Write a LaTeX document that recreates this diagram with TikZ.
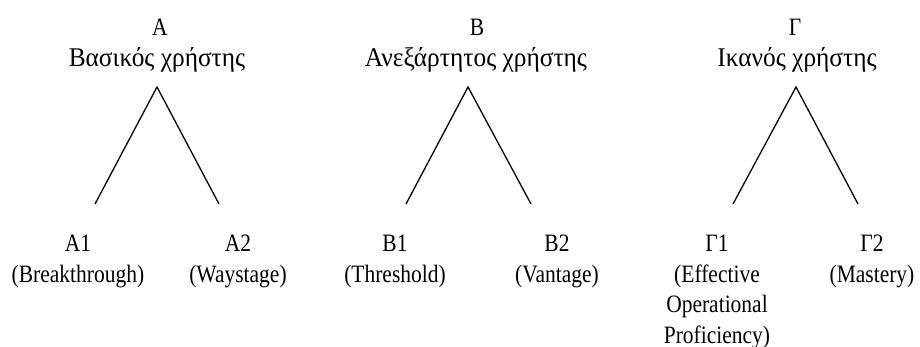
\documentclass[tikz,border=0pt]{standalone}
\usepackage{fontspec}
\setmainfont{Liberation Serif}[FakeStretch=0.86]
\newfontfamily\headfont{Liberation Serif}[FakeStretch=0.94]

\begin{document}
\begin{tikzpicture}[x=1pt,y=-1pt]
   \tikzstyle{every node}=[align=center, inner sep=0pt, anchor=base, font=\fontsize{25}{30.5}\selectfont]
   \tikzstyle{head}=[font=\headfont\fontsize{27}{31}\selectfont]
   \tikzstyle{branch}=[line width=1.3pt, line join=miter]
   \useasboundingbox (0,0) rectangle (920,347);

% headings
\node (A) at (160,36) {A};
\node[head] (A name) at (157,67) {Βασικός χρήστης};
\node (B) at (477,36) {Β};
\node[head] (B name) at (476,67) {Ανεξάρτητος χρήστης};
\node (G) at (795,36) {Γ};
\node[head] (G name) at (797,67) {Ικανός χρήστης};

% branch points
\coordinate (A top) at (157,87);
\coordinate (A left) at (95,204);
\coordinate (A right) at (219,204);
\coordinate (B top) at (468,87);
\coordinate (B left) at (406,204);
\coordinate (B right) at (531,204);
\coordinate (G top) at (796,87);
\coordinate (G left) at (733,204);
\coordinate (G right) at (858,204);

\draw[branch] (A left) -- (A top) -- (A right);
\draw[branch] (B left) -- (B top) -- (B right);
\draw[branch] (G left) -- (G top) -- (G right);

% levels (anchored at the last line)
\node (A1) at (78,282) {A1\\(Breakthrough)};
\node (A2) at (238,282) {A2\\(Waystage)};
\node (B1) at (395,282) {B1\\(Threshold)};
\node (B2) at (557,282) {B2\\(Vantage)};
\node (G1) at (717,343) {Γ1\\(Effective\\Operational\\Proficiency)};
\node (G2) at (872,282) {Γ2\\(Mastery)};

\end{tikzpicture}
\end{document}
